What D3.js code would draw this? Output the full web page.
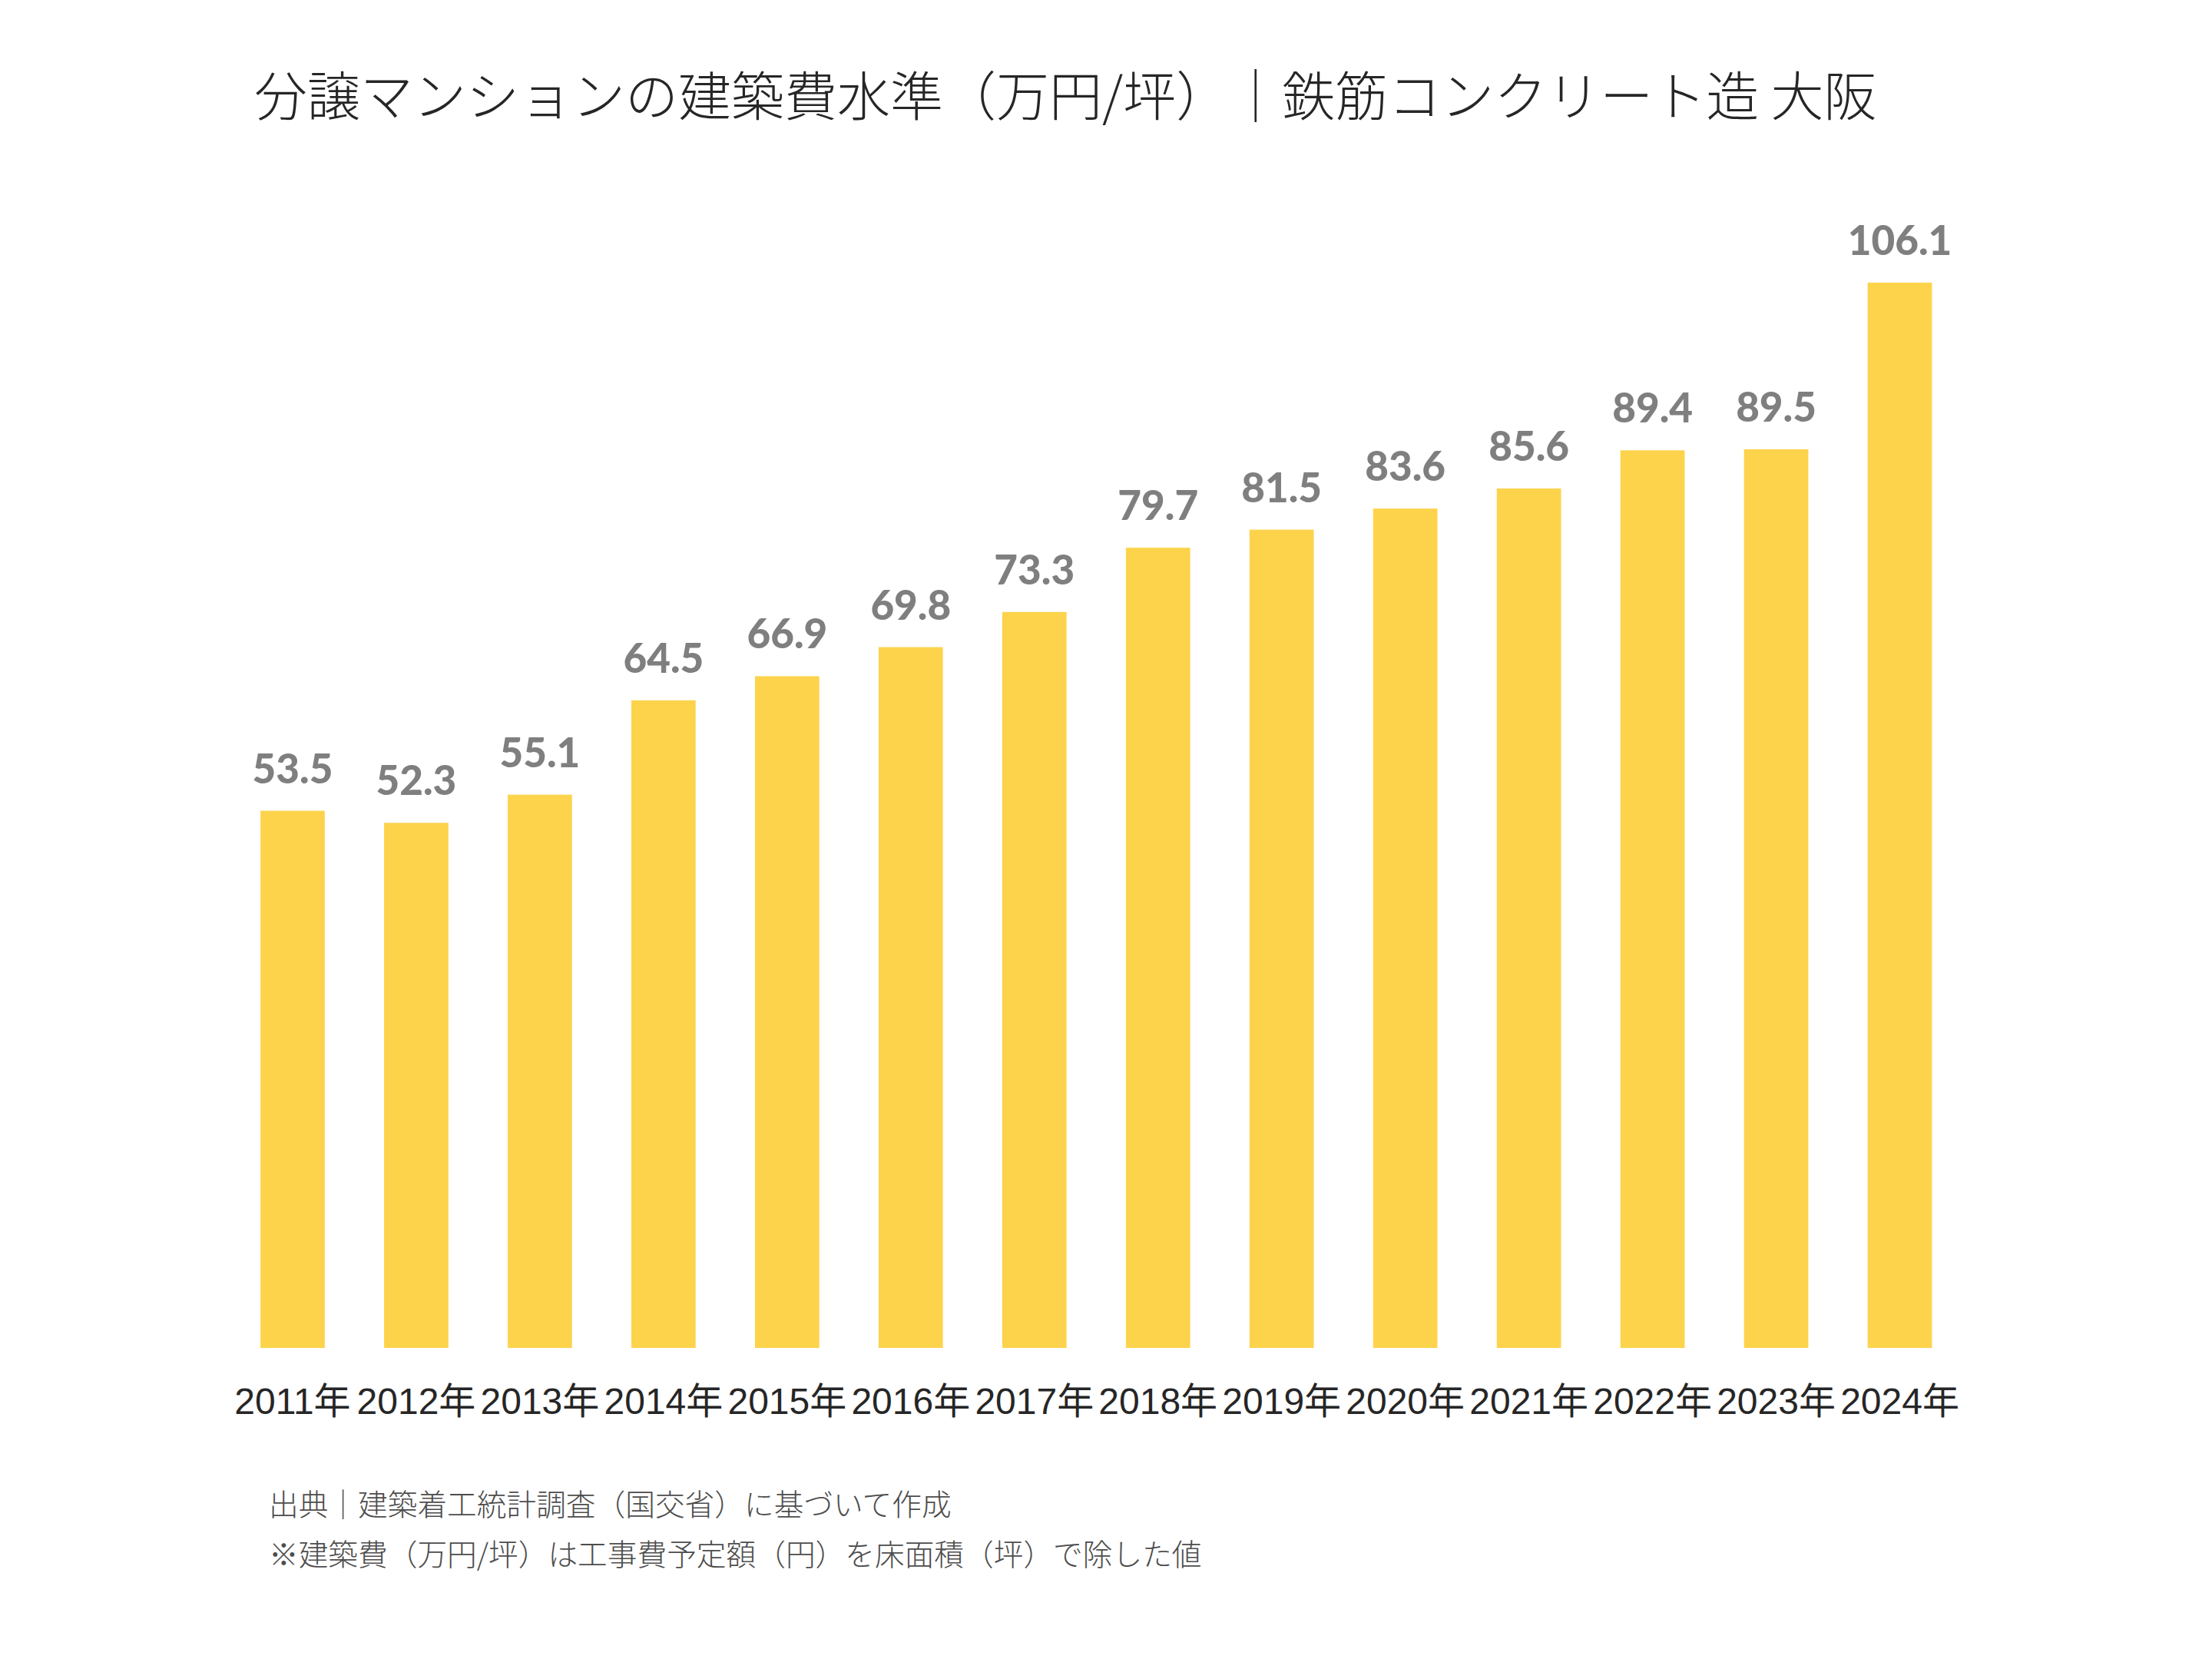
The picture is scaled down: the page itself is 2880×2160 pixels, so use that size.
<!DOCTYPE html>
<html>
<head>
<meta charset="utf-8">
<script src="https://cdn.jsdelivr.net/npm/d3@7"></script>
<style>
  html, body { margin: 0; padding: 0; background: #ffffff; }
  svg { display: block; }
</style>
</head>
<body>
<div id="chart"></div>
<script>
// data
const years = ["2011年", "2012年", "2013年", "2014年", "2015年", "2016年", "2017年",
               "2018年", "2019年", "2020年", "2021年", "2022年", "2023年", "2024年"];
const costs = [53.5, 52.3, 55.1, 64.5, 66.9, 69.8, 73.3, 79.7, 81.5, 83.6, 85.6, 89.4, 89.5, 106.1];
const titleText = "分譲マンションの建築費水準（万円/坪）｜鉄筋コンクリート造 大阪";
const noteLines = [
    "出典｜建築着工統計調査（国交省）に基づいて作成",
    "※建築費（万円/坪）は工事費予定額（円）を床面積（坪）で除した値"
];

function drawChart() {
    const width = 2880;
    const height = 2160;
    const baseY = 1755;
    const topY = 368;
    const jpFont = "'Noto Sans CJK JP', 'Noto Sans', sans-serif";

    const svg = d3.select("#chart").append("svg")
        .attr("width", width)
        .attr("height", height);

    const rows = years.map((y, i) => ({year: y, value: costs[i]}));

    const xScale = d3.scaleBand()
        .domain(years)
        .range([300.5, 2554])
        .paddingInner(0.48)
        .paddingOuter(0.24);

    const yScale = d3.scaleLinear()
        .domain([0, d3.max(costs)])
        .range([baseY, topY]);

    // title
    svg.append("text")
        .attr("x", 331)
        .attr("y", 151)
        .attr("font-family", jpFont)
        .attr("font-weight", 300)
        .attr("font-size", "69px")
        .attr("fill", "#262626")
        .text(titleText);

    // bars
    svg.append("g").selectAll("rect")
        .data(rows)
        .join("rect")
        .attr("x", d => xScale(d.year))
        .attr("y", d => yScale(d.value))
        .attr("width", xScale.bandwidth())
        .attr("height", d => baseY - yScale(d.value))
        .attr("fill", "#fdd34c");

    // value labels
    svg.append("g").selectAll("text")
        .data(rows)
        .join("text")
        .attr("x", d => xScale(d.year) + xScale.bandwidth() / 2)
        .attr("y", d => yScale(d.value) - 36)
        .attr("text-anchor", "middle")
        .attr("font-family", "Lato, 'Open Sans', sans-serif")
        .attr("font-weight", 900)
        .attr("font-size", "53px")
        .attr("fill", "#7f7f7f")
        .text(d => d.value.toFixed(1));

    // x axis labels, no axis line
    const xAxis = d3.axisBottom(xScale).tickSize(0).tickPadding(0);
    const axisG = svg.append("g")
        .attr("transform", `translate(0,${baseY})`)
        .call(xAxis);
    axisG.select(".domain").remove();
    axisG.selectAll("text")
        .attr("dy", null)
        .attr("y", 86)
        .attr("font-family", "'Liberation Sans', 'Noto Sans CJK JP', sans-serif")
        .attr("font-size", "48px")
        .attr("fill", "#262626");

    // footnotes
    svg.append("g").selectAll("text")
        .data(noteLines)
        .join("text")
        .attr("x", 350)
        .attr("y", (d, i) => 1973 + i * 65)
        .attr("font-family", jpFont)
        .attr("font-weight", 300)
        .attr("font-size", "38.7px")
        .attr("fill", "#4d4d4d")
        .text(d => d);
}

drawChart();
</script>
</body>
</html>
